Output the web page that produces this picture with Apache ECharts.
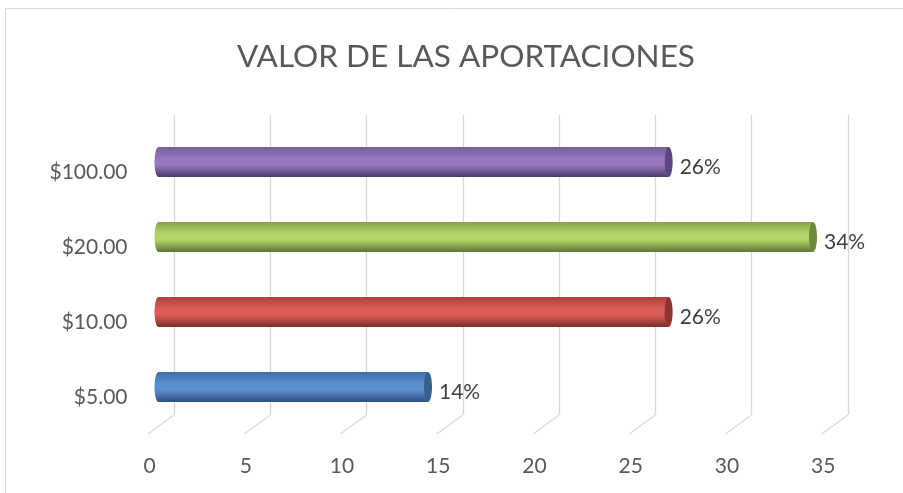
<!DOCTYPE html>
<html>
<head>
<meta charset="utf-8">
<script src="https://cdn.jsdelivr.net/npm/echarts@6/dist/echarts.min.js"></script>
<style>
  html, body { margin: 0; padding: 0; background: #fff; }
  #chart { width: 903px; height: 493px; }
</style>
</head>
<body>
<div id="chart"></div>
<script>
// datos
const categories = ['$5.00', '$10.00', '$20.00', '$100.00']
const values = [14, 26.5, 34, 26.5]
const valueLabels = ['14%', '26%', '34%', '26%']
const xTicks = [0, 5, 10, 15, 20, 25, 30, 35]

// colores tipo cilindro: [borde superior, centro, borde inferior, tapa]
const barColors = [
  ['#3e6ea8', '#5b90d0', '#2c4f7e', '#36608f'],
  ['#a9423e', '#dc5c57', '#7c2d2a', '#8d3532'],
  ['#87a44c', '#b3d468', '#5d7435', '#6c8a3b'],
  ['#765e9c', '#9878bf', '#4c3a68', '#5b4680']
]

const FONT = 'Lato, "Noto Sans", sans-serif'
const chart = echarts.init(document.getElementById('chart'))

function cylinder (params, api) {
  const idx = params.dataIndex
  const start = api.coord([0, api.value(1)])
  const end = api.coord([api.value(0), api.value(1)])
  const h = api.size([0, 1])[1] * 0.4
  const c = barColors[idx]
  const grad = new echarts.graphic.LinearGradient(0, 0, 0, 1, [
    { offset: 0, color: c[0] },
    { offset: 0.4, color: c[1] },
    { offset: 0.6, color: c[1] },
    { offset: 1, color: c[2] }
  ])
  const rx = 4
  return {
    type: 'group',
    children: [
      {
        type: 'ellipse',
        shape: { cx: start[0], cy: start[1], rx: rx, ry: h / 2 },
        style: { fill: grad }
      },
      {
        type: 'rect',
        shape: { x: start[0], y: start[1] - h / 2, width: end[0] - start[0], height: h },
        style: { fill: grad }
      },
      {
        type: 'ellipse',
        shape: { cx: end[0], cy: end[1], rx: rx, ry: h / 2 },
        style: { fill: c[3] }
      },
      {
        type: 'text',
        x: end[0] + rx + 7,
        y: end[1] + 5,
        style: {
          text: valueLabels[idx],
          fill: '#404040',
          font: '21px ' + FONT,
          verticalAlign: 'middle'
        }
      }
    ]
  }
}

// líneas del piso (efecto 3D)
function floorLines (params, api) {
  const p = api.coord([api.value(0), 0])
  const bottom = params.coordSys.y + params.coordSys.height
  return {
    type: 'line',
    shape: { x1: p[0], y1: bottom, x2: p[0] - 26, y2: bottom + 19 },
    style: { stroke: '#d9d9d9', lineWidth: 1.3 }
  }
}

const option = {
  backgroundColor: '#fff',
  animation: false,
  title: {
    text: 'VALOR DE LAS APORTACIONES',
    left: 232,
    top: 36,
    textStyle: { fontFamily: FONT, fontSize: 31.5, fontWeight: 'normal', color: '#595959' }
  },
  graphic: [
    {
      type: 'rect',
      shape: { x: 5.5, y: 8.5, width: 1000, height: 1000 },
      style: { fill: 'none', stroke: '#d9d9d9', lineWidth: 1 },
      z: -10
    }
  ],
  grid: [
    { left: 158.5, right: 70.75, top: 124.5, bottom: 68.5 },
    { left: 174, right: 55.25, top: 115, bottom: 78 }
  ],
  xAxis: [
    {
      gridIndex: 0,
      type: 'value',
      min: 0,
      max: 35,
      interval: 5,
      axisLine: { show: false },
      axisTick: { show: false },
      splitLine: { show: false },
      axisLabel: {
        margin: 31,
        padding: [0, 18, 0, 0],
        fontFamily: FONT,
        fontSize: 21,
        color: '#595959'
      }
    },
    {
      gridIndex: 1,
      type: 'value',
      min: 0,
      max: 35,
      interval: 5,
      axisLine: { show: false },
      axisTick: { show: false },
      axisLabel: { show: false },
      splitLine: { show: true, lineStyle: { color: '#d9d9d9', width: 1.3 } }
    }
  ],
  yAxis: [
    {
      gridIndex: 0,
      type: 'category',
      data: categories,
      axisLine: { show: false },
      axisTick: { show: false },
      axisLabel: {
        margin: 31,
        verticalAlign: 'top',
        fontFamily: FONT,
        fontSize: 21,
        color: '#595959'
      }
    },
    {
      gridIndex: 1,
      type: 'value',
      show: false
    }
  ],
  series: [
    {
      type: 'custom',
      xAxisIndex: 1,
      yAxisIndex: 1,
      data: xTicks.map(v => [v]),
      renderItem: floorLines,
      silent: true,
      z: 1
    },
    {
      type: 'custom',
      xAxisIndex: 0,
      yAxisIndex: 0,
      data: values.map((v, i) => [v, i]),
      encode: { x: 0, y: 1 },
      renderItem: cylinder,
      z: 5
    }
  ]
}

chart.setOption(option)
</script>
</body>
</html>
